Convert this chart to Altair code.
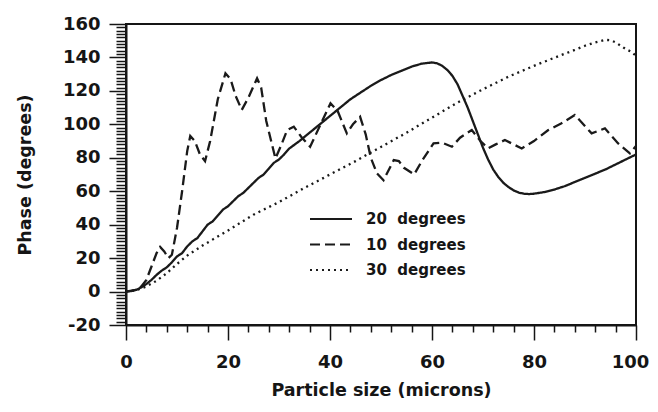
import altair as alt
import pandas as pd

# ---- data ----
x20 = [0, 1, 2, 3, 4, 5, 6, 7, 8, 9, 10, 11, 12, 13, 14, 15, 16, 17, 18, 19, 20,
       21, 22, 23, 24, 25, 26, 27, 28, 29, 30, 31, 32, 34, 36, 38, 40, 42, 44, 46,
       48, 50, 52, 54, 56, 58, 60, 61, 62, 63, 64, 65, 66, 67, 68, 69, 70, 71, 72,
       73, 74, 75, 76, 77, 78, 79, 80, 82, 84, 86, 88, 90, 92, 94, 96, 98, 100]
y20 = [0, 0.3, 1, 2.5, 4.5, 7, 10, 12.5, 14.5, 17.5, 21, 23, 27, 30, 32, 36, 40, 42,
       45.5, 49, 51, 54, 57, 59, 62, 65, 68, 70, 73.5, 77, 79, 82, 85.5, 90, 95, 100,
       105, 110, 115, 119, 123, 126.5, 129.5, 132, 134.5, 136.3, 137, 136.5, 135,
       132.5, 129, 124, 117, 110, 102, 94, 86, 79, 73, 68.5, 65, 62.5, 60.5, 59.2,
       58.5, 58.3, 58.5, 59.5, 61, 63, 65.5, 68, 70.5, 73, 76, 79, 82]

x10 = [0, 2, 3, 4, 5, 6, 6.7, 7.5, 8.3, 9, 10, 11, 12, 12.6, 13.5, 14.5, 15.5, 16.5,
       18, 19.5, 20.5, 21.5, 22.7, 24, 25.7, 26.5, 27.5, 29.3, 30.5, 31.6, 32.9,
       34.5, 36.1, 38, 40.1, 41.5, 43.3, 44.5, 45.9, 47, 48, 49.2, 50.5, 52.5, 53.5,
       54.5, 56.5, 58, 60.3, 62, 63.9, 65.5, 67.8, 69.5, 71, 72.5, 74.3, 76, 77.6,
       80, 82.8, 85.4, 88, 91.3, 93.9, 96.5, 98.8, 100]
y10 = [0, 1, 3, 7, 15, 23, 26.7, 24, 20, 22, 38, 60, 84, 93, 90, 82, 78, 90, 115,
       130.5, 127, 117, 108.6, 116, 127.5, 122, 102, 79.6, 88, 96.6, 98.6, 92, 86.6,
       99, 112.6, 108, 94.6, 100, 104.5, 94, 80, 70.7, 66.6, 78.6, 78, 74, 70, 78,
       88.6, 89, 86.6, 92, 96.6, 90, 85.6, 88, 90.6, 88, 85.6, 90, 96.6, 100.6,
       105.6, 94.6, 97.6, 88.6, 82.6, 87]

x30 = [0, 2, 4, 6, 8, 10, 12, 15, 20, 25, 30, 35, 40, 45, 50, 55, 60, 65, 70, 75,
       80, 85, 88, 90, 92, 94, 95, 96, 97, 98, 99, 100]
y30 = [0, 0.8, 3, 6.5, 11, 16.5, 21.5, 27.5, 36.5, 46, 53.5, 62, 70, 78, 86.5, 95,
       104, 113, 121, 128.5, 135, 141, 144.5, 147, 149, 150.5, 150.3, 149, 147, 145,
       143.5, 141]

series_names = ["20\u00a0 degrees", "10\u00a0 degrees", "30\u00a0 degrees"]

rows = []
for name, xs, ys in zip(series_names, [x20, x10, x30], [y20, y10, y30]):
    for i, (a, b) in enumerate(zip(xs, ys)):
        rows.append({"size": a, "phase": b, "series": name, "order": i})
df = pd.DataFrame(rows)

FONT = "DejaVu Sans"
INK = "#151515"

y_vals = list(range(-20, 161, 2))
x_vals = list(range(0, 101, 4))

major_label = "datum.value % 20 === 0 ? ('' + datum.value) : ''"

chart = alt.Chart(df).mark_line(strokeWidth=2.3, color="#1a1a1a").encode(
    x=alt.X("size:Q",
            scale=alt.Scale(domain=[0, 100], nice=False, zero=False),
            axis=alt.Axis(
                title="Particle size (microns)",
                values=x_vals,
                labelExpr=major_label,
                tickSize={"condition": {"test": "datum.value % 20 === 0", "value": 15}, "value": 7},
                labelOffset={"condition": {"test": "datum.value === 100", "value": -6}, "value": 0},
                labelPadding=13,
                titlePadding=10,
                grid=False,
                labelOverlap=False,
                labelFlush=False,
            )),
    y=alt.Y("phase:Q",
            scale=alt.Scale(domain=[-20, 160], nice=False, zero=False),
            axis=alt.Axis(
                title="Phase (degrees)",
                values=y_vals,
                labelExpr=major_label,
                tickSize={"condition": {"test": "datum.value % 20 === 0", "value": 17}, "value": 10},
                labelPadding=9,
                titlePadding=28,
                grid=False,
                labelOverlap=False,
                labelFlush=False,
            )),
    strokeDash=alt.StrokeDash(
        "series:N",
        scale=alt.Scale(domain=series_names, range=[[1, 0], [10, 5], [2, 4]]),
        legend=alt.Legend(
            title=None,
            orient="none",
            legendX=190,
            legendY=180,
            symbolType="M-1.5,0H1.5",
            symbolSize=784,
            symbolStrokeWidth=2,
            symbolStrokeColor="#1a1a1a",
            symbolFillColor="transparent",
            labelFont=FONT,
            labelFontWeight="bold",
            labelFontSize=15,
            labelColor=INK,
            labelOffset=20,
            rowPadding=2.5,
        ),
    ),
    detail="series:N",
    order="order:Q",
).properties(
    width=510,
    height=301,
    autosize=alt.AutoSizeParams(type="none"),
    padding={"left": 118, "top": 16, "right": 14, "bottom": 79},
).configure_view(
    stroke=INK, strokeWidth=2
).configure_axis(
    domainColor=INK,
    domainWidth=2,
    tickColor=INK,
    tickWidth=1.5,
    labelFont=FONT,
    labelFontWeight="bold",
    labelFontSize=18,
    labelColor=INK,
    titleFont=FONT,
    titleFontWeight="bold",
    titleFontSize=17.5,
    titleColor=INK,
)

chart.save("out.html", embed_options={"renderer": "svg", "actions": False})
